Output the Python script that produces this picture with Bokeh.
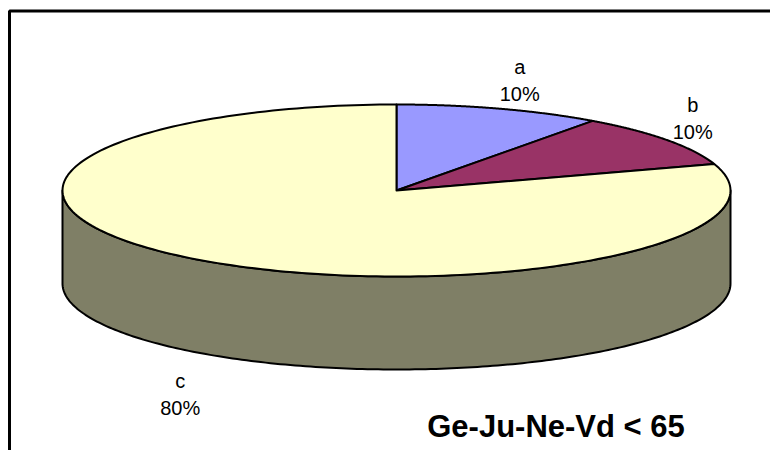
import numpy as np
from bokeh.plotting import figure
from bokeh.models import Range1d
from bokeh.embed import file_html
from bokeh.resources import INLINE
from bokeh.core.properties import value

# ---- data ----
categories = ["a", "b", "c"]
values = [10, 10, 80]
percent_labels = ["10%", "10%", "80%"]
colors = ["#9999FF", "#993366", "#FFFFCC"]
chart_title = "Ge-Ju-Ne-Vd < 65"

# ---- layout (pixel space of the picture) ----
CX, CY, RX, RY, DEPTH = 396.0, 190.0, 334.0, 86.0, 93.0
START_ANGLE = 90.0
LABEL_OFFSETS = [(20, -15), (26, -8), (-20, 55)]
LINE_GAP = 27
FONT = "Liberation Sans"


def darker(hex_color, f=0.5):
    h = hex_color.lstrip("#")
    r, g, b = (int(h[i:i + 2], 16) for i in (0, 2, 4))
    return "#%02x%02x%02x" % (int(r * f), int(g * f), int(b * f))


def ex(t):
    return CX + RX * np.cos(np.radians(t))


def ey(t, d=0.0):
    return CY - RY * np.sin(np.radians(t)) + d


p = figure(width=770, height=450, x_range=Range1d(0, 770), y_range=Range1d(450, 0),
           output_backend="svg", toolbar_location=None, min_border=0,
           x_axis_location=None, y_axis_location=None)
p.grid.visible = False
p.outline_line_color = None
p.background_fill_color = "white"
p.border_fill_color = "white"

total = float(sum(values))
angles = []
acc = 0.0
for v in values:
    t0 = START_ANGLE - 360.0 * acc / total
    acc += v
    t1 = START_ANGLE - 360.0 * acc / total
    angles.append((t0, t1))

# side walls (front half only)
side_xs, side_ys, side_cols = [], [], []
for (t0, t1), col in zip(angles, colors):
    brk = [t0]
    k = np.floor(t0 / 180.0) * 180.0
    while k > t1:
        if k < t0:
            brk.append(k)
        k -= 180.0
    brk.append(t1)
    for a, b in zip(brk[:-1], brk[1:]):
        mid = (a + b) / 2.0
        if np.sin(np.radians(mid)) < 0:
            ts = np.linspace(a, b, 200)
            xs = list(ex(ts)) + list(ex(ts[::-1]))
            ys = list(ey(ts)) + list(ey(ts[::-1], DEPTH))
            side_xs.append(xs)
            side_ys.append(ys)
            side_cols.append(darker(col))
p.patches(side_xs, side_ys, fill_color=side_cols, line_color="black",
          line_width=2, line_join="round")

# top faces
top_xs, top_ys = [], []
for (t0, t1) in angles:
    ts = np.linspace(t0, t1, 200)
    top_xs.append([CX] + list(ex(ts)))
    top_ys.append([CY] + list(ey(ts)))
p.patches(top_xs, top_ys, fill_color=colors, line_color="black",
          line_width=2, line_join="round")

# labels
for (t0, t1), cat, pct, (dx, dy) in zip(angles, categories, percent_labels, LABEL_OFFSETS):
    tm = (t0 + t1) / 2.0
    ax = float(ex(tm))
    ay = float(ey(tm, DEPTH if np.sin(np.radians(tm)) < 0 else 0.0))
    p.text(x=[ax + dx], y=[ay + dy - LINE_GAP], text=[cat], text_align="center",
           text_baseline="alphabetic", text_font=value(FONT), text_font_size="20px",
           text_color="black")
    p.text(x=[ax + dx], y=[ay + dy], text=[pct], text_align="center",
           text_baseline="alphabetic", text_font=value(FONT), text_font_size="20px",
           text_color="black")

# title
p.text(x=[555.5], y=[426], text=[chart_title], text_align="center",
       text_baseline="middle", text_font=value(FONT), text_font_size="31px",
       text_font_style="bold", text_color="black")

# chart frame (only top and left edges are inside the window)
p.line(x=[9, 9, 800], y=[480, 10.5, 10.5], line_color="black", line_width=3)

open("out.html", "w").write(file_html(p, INLINE))
